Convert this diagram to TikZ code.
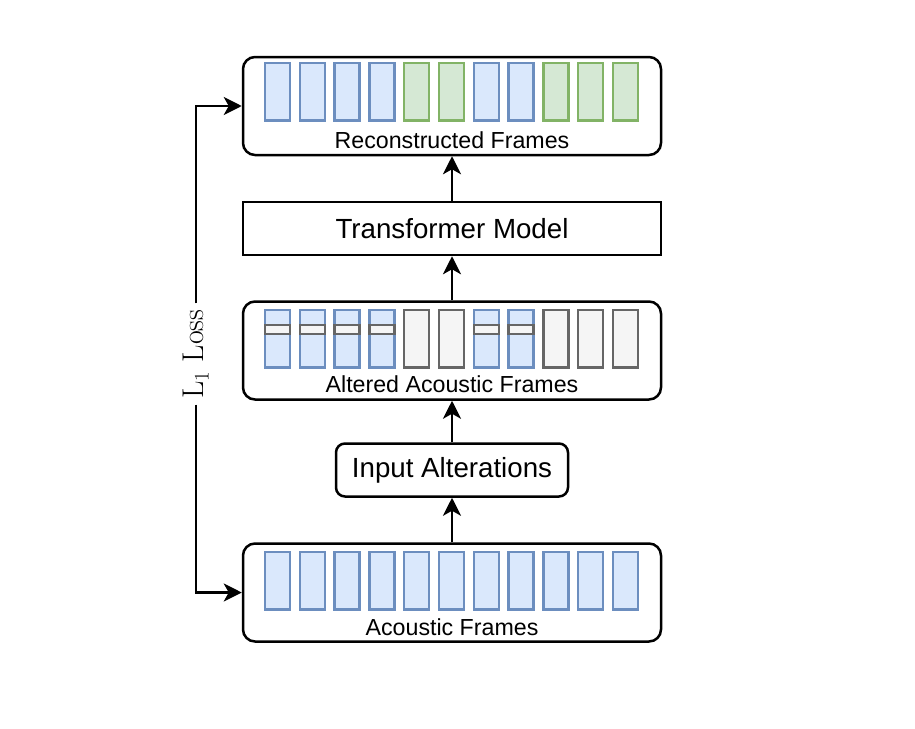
\documentclass[tikz,border=0pt]{standalone}
\usepackage{fontspec}
\setsansfont{Liberation Sans}
\usetikzlibrary{arrows.meta}
\definecolor{blueline}{HTML}{6C8EBF}
\definecolor{bluefill}{HTML}{DAE8FC}
\definecolor{greenline}{HTML}{82B366}
\definecolor{greenfill}{HTML}{D5E8D4}
\definecolor{grayline}{HTML}{666666}
\definecolor{grayfill}{HTML}{F5F5F5}

\begin{document}
\begin{tikzpicture}[x=1pt, y=-1pt,
    group/.style={draw, line width=2.5pt, rounded corners=12pt, minimum width=418pt, minimum height=98pt},
    block/.style={draw, line width=2.5pt, minimum height=53pt, font=\sffamily\fontsize{27.7}{33}\selectfont},
    caption/.style={anchor=base, inner sep=0pt, font=\sffamily\fontsize{23.2}{28}\selectfont},
    bframe/.style={draw=blueline, fill=bluefill, line width=2.5pt},
    gframe/.style={draw=greenline, fill=greenfill, line width=2.5pt},
    eframe/.style={draw=grayline, fill=grayfill, line width=2.5pt},
    arr/.style={-{Stealth[length=18pt, width=18pt, inset=5pt]}, line width=2.5pt}]

        \useasboundingbox (0,0) rectangle (915,728);

        \node[group] (recon) at (452,106) {};
        \node[block, minimum width=418pt] (model) at (452,228.5) {Transformer Model};
        \node[group] (altered) at (452,350.5) {};
        \node[block, rounded corners=9pt, minimum width=232pt] (alter) at (452,470) {Input Alterations};
        \node[group] (acoustic) at (452,592.5) {};

        \foreach \i/\s in {0/bframe, 1/bframe, 2/bframe, 3/bframe, 4/gframe, 5/gframe,
                           6/bframe, 7/bframe, 8/gframe, 9/gframe, 10/gframe}
          \draw[\s] ({265+34.8*\i}, 63) rectangle ++(25, 57.5);

        \foreach \i in {0, 1, 2, 3, 6, 7} {
          \draw[bframe] ({265+34.8*\i}, 310) rectangle ++(25, 57.5);
          \draw[eframe] ({265+34.8*\i}, 325) rectangle ++(25, 9);
        }
        \foreach \i in {4, 5, 8, 9, 10}
          \draw[eframe] ({265+34.8*\i}, 310) rectangle ++(25, 57.5);

        \foreach \i in {0, ..., 10}
          \draw[bframe] ({265+34.8*\i}, 552) rectangle ++(25, 57.5);

        \node[caption] (recontext) at (452,148) {Reconstructed Frames};
        \node[caption] (alteredtext) at (452,392) {Altered Acoustic Frames};
        \node[caption] (acoustictext) at (452,635) {Acoustic Frames};

        \draw[arr] (acoustic) -- (alter);
        \draw[arr] (alter) -- (altered);
        \draw[arr] (altered) -- (model);
        \draw[arr] (model) -- (recon);

        \node[rotate=90, inner sep=6pt, font=\fontsize{30}{36}\selectfont] (loss) at (196,354) {$\mathrm{L}_1$ Loss};
        \draw[arr] (loss.east) |- (recon.west);
        \draw[arr] (loss.west) |- (acoustic.west);

      \end{tikzpicture}
\end{document}
